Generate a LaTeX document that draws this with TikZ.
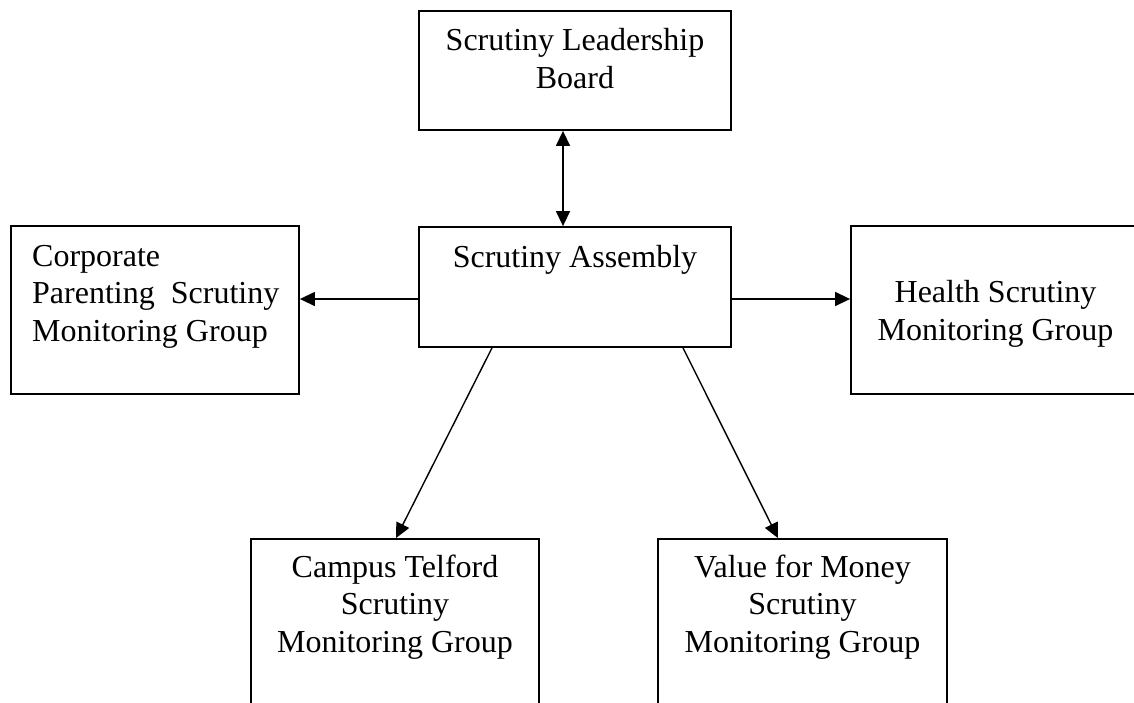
\documentclass[tikz,border=0pt]{standalone}
\usepackage{fontspec}
\setmainfont{Liberation Serif}
\usetikzlibrary{arrows.meta}
\tikzset{
  box/.style={draw=black, line width=1.8pt, rectangle, inner sep=0pt},
  txt/.style={inner sep=0pt, font=\fontsize{32}{37.5}\selectfont, align=center},
  arr/.style={line width=1.4pt, -{Triangle[length=15pt,width=14pt]}},
  darr/.style={line width=1.4pt, {Triangle[length=15pt,width=14pt]}-{Triangle[length=15pt,width=14pt]}}
}
\begin{document}
\begin{tikzpicture}[x=1pt,y=-1pt]
\useasboundingbox (0,0) rectangle (1134,702);
\begin{scope}
\clip (0,0) rectangle (1134,702);
% boxes
\node[box, minimum width=312pt, minimum height=119pt] (lead) at (575,70.5) {};
\node[box, minimum width=312pt, minimum height=120pt] (asm) at (575,287) {};
\node[box, minimum width=288pt, minimum height=168pt] (corp) at (155,310) {};
\node[box, minimum width=289pt, minimum height=168pt] (health) at (995.5,310) {};
\node[box, minimum width=288pt, minimum height=222pt] (camp) at (395,650) {};
\node[box, minimum width=289pt, minimum height=222pt] (vfm) at (802.5,650) {};
% texts (base anchor = baseline of last line)
\node[txt, anchor=base] (leadt) at (575,88) {Scrutiny Leadership\\Board};
\node[txt, anchor=base] (asmt) at (575,267) {Scrutiny Assembly};
\node[txt, anchor=base west, align=left] (corpt) at (32,341) {Corporate\\Parenting\ \ Scrutiny\\Monitoring Group};
\node[txt, anchor=base] (healtht) at (995.5,340) {Health Scrutiny\\Monitoring Group};
\node[txt, anchor=base] (campt) at (395,652) {Campus Telford\\Scrutiny\\Monitoring Group};
\node[txt, anchor=base] (vfmt) at (802.5,652) {Value for Money\\Scrutiny\\Monitoring Group};
% connectors
\coordinate (ylev) at (0,299);
\draw[darr] ([xshift=-12pt]lead.south) -- ([xshift=-12pt]asm.north);
\draw[arr] (asm.west |- ylev) -- (corp.east |- ylev);
\draw[arr] (asm.east |- ylev) -- (health.west |- ylev);
\draw[arr] ([xshift=-83pt]asm.south) -- ([xshift=1pt]camp.north);
\draw[arr] ([xshift=108pt]asm.south) -- ([xshift=-24.5pt]vfm.north);
\end{scope}
\end{tikzpicture}
\end{document}
